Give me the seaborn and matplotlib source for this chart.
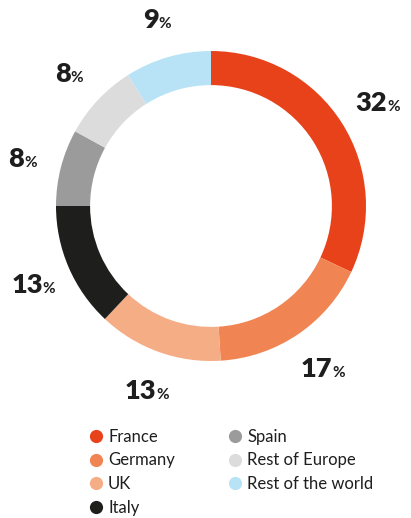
import matplotlib
matplotlib.use("Agg")
import matplotlib.pyplot as plt
from matplotlib.lines import Line2D
import seaborn as sns
import numpy as np

sns.set_theme(style="white")
plt.rcParams['font.family'] = ['Lato', 'DejaVu Sans']

# data
regions = ["France", "Germany", "UK", "Italy", "Spain", "Rest of Europe", "Rest of the world"]
shares = [32, 17, 13, 13, 8, 8, 9]
colors = ["#E8421A", "#F08452", "#F5AD86", "#1E1E1C", "#9B9B9B", "#DCDCDC", "#B8E2F6"]

text_color = "#1E1E1E"

fig = plt.figure(figsize=(4.11, 5.18), dpi=100)
ax = fig.add_axes([0, 0, 1, 1])

ax.pie(shares, colors=colors, startangle=90, counterclock=False, radius=1.0,
       wedgeprops=dict(width=0.22, linewidth=0))

# percentage labels outside the ring
total = sum(shares)
cum = np.cumsum([0] + shares[:-1])
for s, c in zip(shares, cum):
    mid = np.deg2rad(90 - 360 * (c + s / 2) / total)
    r = 1.26
    x, y = r * np.cos(mid), r * np.sin(mid)
    nd = len(str(s))
    dx = 6.5 * nd - 5
    ax.annotate(str(s), (x, y), xytext=(dx, -7), textcoords="offset points",
                ha="right", va="baseline", fontsize=19.5, fontweight="heavy",
                color=text_color)
    ax.annotate("%", (x, y), xytext=(dx, -7), textcoords="offset points",
                ha="left", va="baseline", fontsize=11, fontweight="bold",
                color=text_color)

ax.set_xlim(-211 / 155, 200 / 155)
ax.set_ylim(-312 / 155, 206 / 155)
ax.axis("off")

handles = [Line2D([0], [0], marker="o", linestyle="", markersize=9.5,
                  markerfacecolor=col, markeredgewidth=0) for col in colors]
fig.legend(handles, regions, ncol=2, loc="upper left",
           bbox_to_anchor=(68 / 411, 1 - 414 / 518), frameon=False,
           fontsize=12, labelcolor=text_color, handletextpad=0.0,
           columnspacing=2.85, labelspacing=0.45, handlelength=1.5)

fig.savefig("out.png", dpi=100)
